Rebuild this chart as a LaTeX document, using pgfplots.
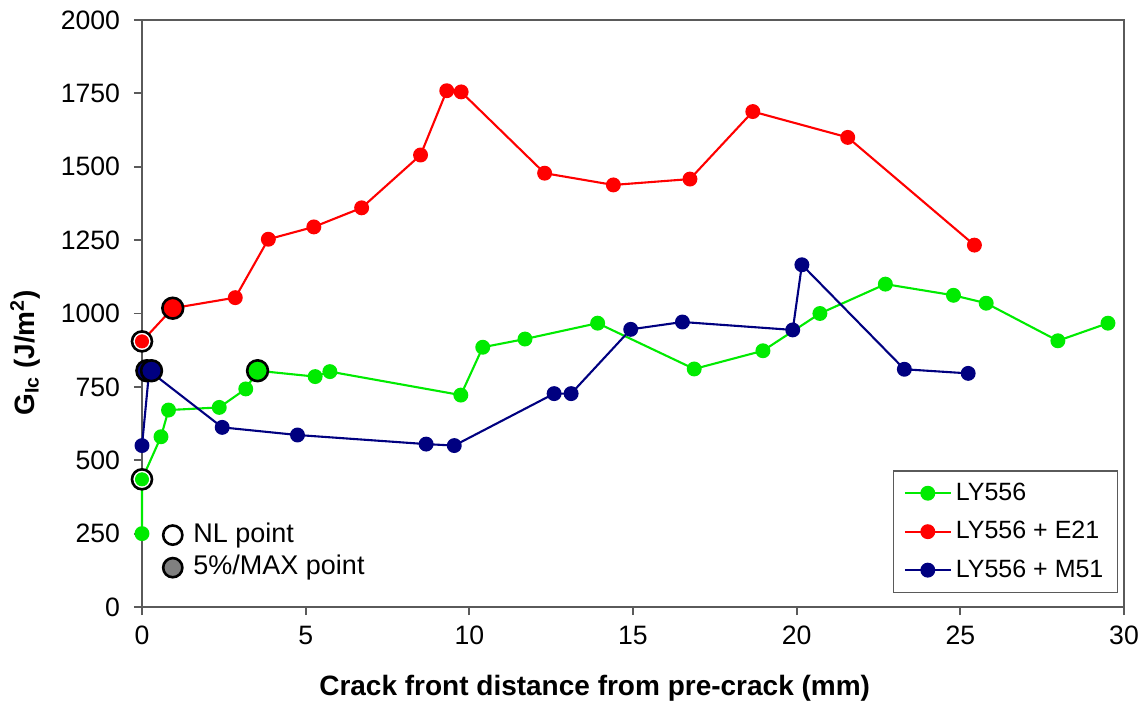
\documentclass[border=0pt]{standalone}
\usepackage{pgfplots}
\pgfplotsset{compat=1.18}
\usepackage{pgfplotstable}
\usepackage{fontspec}
\setmainfont{Liberation Sans}

\definecolor{lygreen}{RGB}{0,235,0}
\definecolor{lyred}{RGB}{255,0,0}
\definecolor{lynavy}{RGB}{0,0,128}
\definecolor{axgray}{RGB}{90,90,90}

% crack front distance (mm) vs. G_Ic (J/m^2)
\pgfplotstableread{
x y
0 250
0 435
0.58 580
0.81 671
2.36 680
3.17 743
3.53 805
5.29 785
5.74 802
9.74 722
10.41 885
11.70 913
13.92 967
16.87 811
18.97 873
20.71 1000
22.71 1100
24.79 1062
25.79 1035
27.98 907
29.51 967
}\neat

\pgfplotstableread{
x y
0 905
0.94 1018
2.85 1054
3.86 1253
5.25 1295
6.71 1360
8.51 1540
9.31 1759
9.75 1755
12.30 1478
14.40 1438
16.74 1458
18.66 1688
21.56 1600
25.43 1233
}\etwo

\pgfplotstableread{
x y
0 550
0.22 805
2.45 612
4.75 586
8.68 555
9.54 550
12.59 727
13.11 727
14.93 946
16.51 971
19.88 944
20.16 1166
23.29 810
25.24 796
}\mfive

\begin{document}
\begin{tikzpicture}
\begin{axis}[
  at={(0,0)}, anchor=south west,
  scale only axis, width=491pt, height=293.5pt,
  xmin=0, xmax=30, ymin=0, ymax=2000,
  xtick={0,5,...,30}, ytick={0,250,...,2000},
  clip=false,
  axis line style={axgray, line width=0.9pt},
  tick style={axgray, line width=0.9pt},
  tick align=outside, major tick length=4pt,
  xtick pos=bottom, ytick pos=left,
  scaled ticks=false,
  /pgf/number format/1000 sep={},
  /pgf/number format/assume math mode=true,
  tick label style={font=\fontsize{13.3}{16}\selectfont},
  yticklabel style={xshift=-3.5pt},
  xticklabel style={yshift=-2pt},
  xlabel={\textbf{Crack front distance from pre-crack (mm)}},
  ylabel={\textbf{G\textsubscript{Ic} (J/m\textsuperscript{2})}},
  label style={font=\fontsize{14}{17}\selectfont},
  xlabel style={at={(axis description cs:0.461,-0.138)}, anchor=center},
  ylabel style={at={(axis description cs:-0.119,0.433)}, anchor=center},
  legend style={at={(rel axis cs:0.9939,0.0239)}, anchor=south east,
    draw=axgray, line width=0.6pt, fill=white,
    font=\fontsize{12.5}{15}\selectfont, row sep=5pt,
    inner xsep=5pt, inner ysep=4pt},
  legend cell align=left,
  legend image code/.code={\draw[mark repeat=2,mark phase=2,#1]
    plot coordinates {(0pt,0pt) (11.5pt,0pt) (23pt,0pt)};},
]
\addplot[lygreen, line width=1.05pt, mark=*, mark size=3.2pt,
  mark options={draw=lygreen, fill=lygreen}] table[x=x,y=y] {\neat};
\addlegendentry{LY556}
\addplot[lyred, line width=1.05pt, mark=*, mark size=3.2pt,
  mark options={draw=lyred, fill=lyred}] table[x=x,y=y] {\etwo};
\addlegendentry{LY556 + E21}
\addplot[lynavy, line width=1.05pt, mark=*, mark size=3.2pt,
  mark options={draw=lynavy, fill=lynavy}] table[x=x,y=y] {\mfive};
\addlegendentry{LY556 + M51}

% NL points: black ring around the data dot
\addplot[forget plot, only marks, mark=*, mark size=5pt,
  mark options={draw=black, fill=white, line width=1.3pt}]
  coordinates {(0,435) (0,905)};
\addplot[forget plot, only marks, mark=*, mark size=3.3pt,
  mark options={draw=lygreen, fill=lygreen}] coordinates {(0,435)};
\addplot[forget plot, only marks, mark=*, mark size=3.3pt,
  mark options={draw=lyred, fill=lyred}] coordinates {(0,905)};

% 5%/MAX points: large filled markers
\addplot[forget plot, only marks, mark=*, mark size=5.2pt,
  mark options={draw=black, fill=lygreen, line width=1.3pt}]
  coordinates {(3.53,805)};
\addplot[forget plot, only marks, mark=*, mark size=5.2pt,
  mark options={draw=black, fill=lyred, line width=1.3pt}]
  coordinates {(0.94,1018)};
\addplot[forget plot, only marks, mark=*, mark size=5.2pt,
  mark options={draw=black, fill=lynavy, line width=1.3pt}]
  coordinates {(0.15,805) (0.29,805)};

% key for the special markers
\addplot[forget plot, only marks, mark=*, mark size=4.8pt,
  mark options={draw=black, fill=white, line width=1.3pt}]
  coordinates {(0.94,245)};
\addplot[forget plot, only marks, mark=*, mark size=4.8pt,
  mark options={draw=black, fill=gray, line width=1.3pt}]
  coordinates {(0.94,134)};
\node[anchor=west, inner sep=0pt, font=\fontsize{13.5}{16}\selectfont]
  at (axis cs:1.56,245) {NL point};
\node[anchor=west, inner sep=0pt, font=\fontsize{13.5}{16}\selectfont]
  at (axis cs:1.56,134) {5\%/MAX point};

% plot area frame (top and right)
\draw[axgray, line width=0.9pt] (rel axis cs:0,1) -- (rel axis cs:1,1) -- (rel axis cs:1,0);
\end{axis}
\pgfresetboundingbox
\path[use as bounding box] (-71pt,-47pt) rectangle (501.5pt,303.5pt);
\end{tikzpicture}
\end{document}
